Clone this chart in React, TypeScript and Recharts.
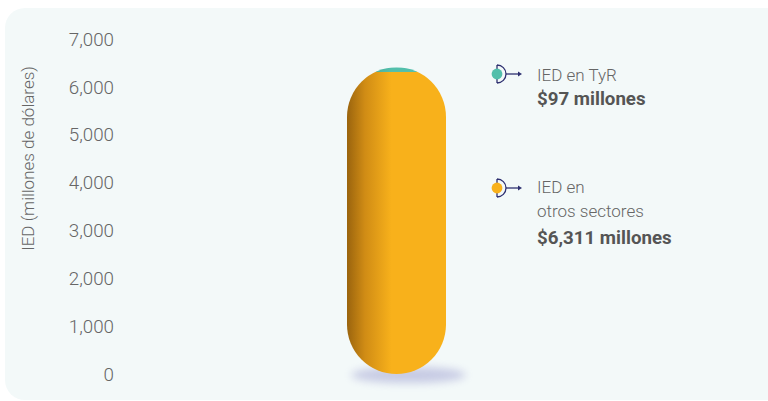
import { Bar, BarChart, XAxis, YAxis } from "recharts";

const categories = ["IED"];
const tyrValues = [97];
const otrosValues = [6311];
const yTicks = [0, 1000, 2000, 3000, 4000, 5000, 6000, 7000];

const legendLabels = [["IED en TyR"], ["IED en", "otros sectores"]];
const legendTotals = ["$97 millones", "$6,311 millones"];
const legendColors = ["#52bfab", "#f8b11b"];

const data = categories.map((name, i) => ({
  name,
  otros: otrosValues[i],
  tyr: tyrValues[i],
}));

const FONT = "Roboto, 'Noto Sans', sans-serif";

// the whole stack is clipped into one pill; teal segment defines the clip
const TopSegment = (props: any) => {
  const { x, y, width, height, payload } = props;
  const total = payload.tyr + payload.otros;
  const bottom = y + (height * total) / payload.tyr;
  return (
    <g>
      <defs>
        <clipPath id="pill" clipPathUnits="userSpaceOnUse">
          <rect x={x} y={y} width={width} height={bottom - y} rx={width / 2} ry={width / 2} />
        </clipPath>
      </defs>
      <rect x={x} y={y} width={width} height={height} fill="url(#gradTeal)" clipPath="url(#pill)" />
    </g>
  );
};

const BottomSegment = (props: any) => {
  const { x, y, width, height } = props;
  const bottom = y + height;
  return (
    <g>
      <ellipse
        cx={x + width / 2 + 12}
        cy={bottom + 1}
        rx={width / 2 + 8}
        ry={8}
        fill="#6a6ab8"
        opacity={0.32}
        filter="url(#shadowBlur)"
      />
      <rect x={x} y={y - 0.5} width={width} height={height + 0.5} fill="url(#gradOrange)" clipPath="url(#pill)" />
    </g>
  );
};

const LegendIcon = ({ color }: { color: string }) => (
  <svg width={40} height={22} style={{ position: "absolute", left: 0, top: 0 }}>
    <path d="M9 2 L9 20 M9 2 A9 9 0 0 1 9 20" fill="none" stroke="#2e3070" strokeWidth={1.3} />
    <line x1={18} y1={11} x2={31} y2={11} stroke="#2e3070" strokeWidth={1.3} />
    <path d="M30 8.5 L34 11 L30 13.5 Z" fill="#2e3070" />
    <circle cx={9} cy={11} r={5.4} fill={color} />
  </svg>
);

const ChartLegend = () => {
  const tops = [0, 112];
  return (
    <div style={{ position: "absolute", left: 488, top: 63, width: 260, height: 200, fontFamily: FONT }}>
      {legendLabels.map((lines, i) => (
        <div key={i} style={{ position: "absolute", left: 0, top: tops[i], width: 260 }}>
          <div style={{ position: "absolute", left: 0, top: i === 0 ? 0 : 2 }}>
            <LegendIcon color={legendColors[i]} />
          </div>
          <div style={{ position: "absolute", left: 49, top: 0, lineHeight: "24px", whiteSpace: "nowrap" }}>
            {lines.map((l) => (
              <div key={l} style={{ color: "#666", fontWeight: 300, fontSize: 17 }}>
                {l}
              </div>
            ))}
            <div style={{ color: "#555", fontWeight: 700, fontSize: 18.7, marginTop: i === 0 ? 0 : 3 }}>
              {legendTotals[i]}
            </div>
          </div>
        </div>
      ))}
    </div>
  );
};

const AxisTitle = (props: any) => {
  const vb = props.viewBox || { x: 0, y: 0, width: 0, height: 0 };
  const cx = vb.x + 28;
  const cy = vb.y + vb.height / 2 - 48;
  return (
    <text
      x={cx}
      y={cy}
      transform={`rotate(-90, ${cx}, ${cy})`}
      textAnchor="middle"
      dominantBaseline="central"
      fill="#666"
      fontSize={17}
      fontWeight={300}
      fontFamily={FONT}
    >
      IED (millones de dólares)
    </text>
  );
};

export default function App() {
  return (
    <div style={{ position: "absolute", left: 0, top: 0, width: 768, height: 401, overflow: "hidden", background: "#fff" }}>
      <div
        style={{
          position: "absolute",
          left: 5,
          top: 8,
          width: 800,
          height: 392,
          borderRadius: 20,
          background: "#f3f9f9",
        }}
      />
      <div style={{ position: "absolute", left: 0, top: 0 }}>
        <BarChart width={768} height={401} data={data} margin={{ top: 39, right: 97, bottom: 27, left: 0 }}>
          <defs>
            <linearGradient id="gradOrange" x1="0" y1="0" x2="1" y2="0">
              <stop offset="0%" stopColor="#9a640e" />
              <stop offset="18%" stopColor="#d08c15" />
              <stop offset="45%" stopColor="#f8b11b" />
              <stop offset="100%" stopColor="#f8b11b" />
            </linearGradient>
            <linearGradient id="gradTeal" x1="0" y1="0" x2="1" y2="0">
              <stop offset="0%" stopColor="#3a9a8a" />
              <stop offset="45%" stopColor="#52bfab" />
              <stop offset="100%" stopColor="#52bfab" />
            </linearGradient>
            <filter id="shadowBlur" x="-50%" y="-200%" width="200%" height="500%">
              <feGaussianBlur stdDeviation="4" />
            </filter>
          </defs>
          <XAxis dataKey="name" hide />
          <YAxis
            domain={[0, 7000]}
            ticks={yTicks}
            width={122}
            axisLine={false}
            tickLine={false}
            interval={0}
            tickFormatter={(v: number) => v.toLocaleString("en-US")}
            tick={{ fill: "#666", fontSize: 18.8, fontWeight: 300, fontFamily: FONT }}
            label={<AxisTitle />}
          />
          <Bar dataKey="otros" stackId="a" barSize={99} shape={<BottomSegment />} isAnimationActive={false} />
          <Bar dataKey="tyr" stackId="a" barSize={99} shape={<TopSegment />} isAnimationActive={false} />
        </BarChart>
      </div>
      <ChartLegend />
    </div>
  );
}
